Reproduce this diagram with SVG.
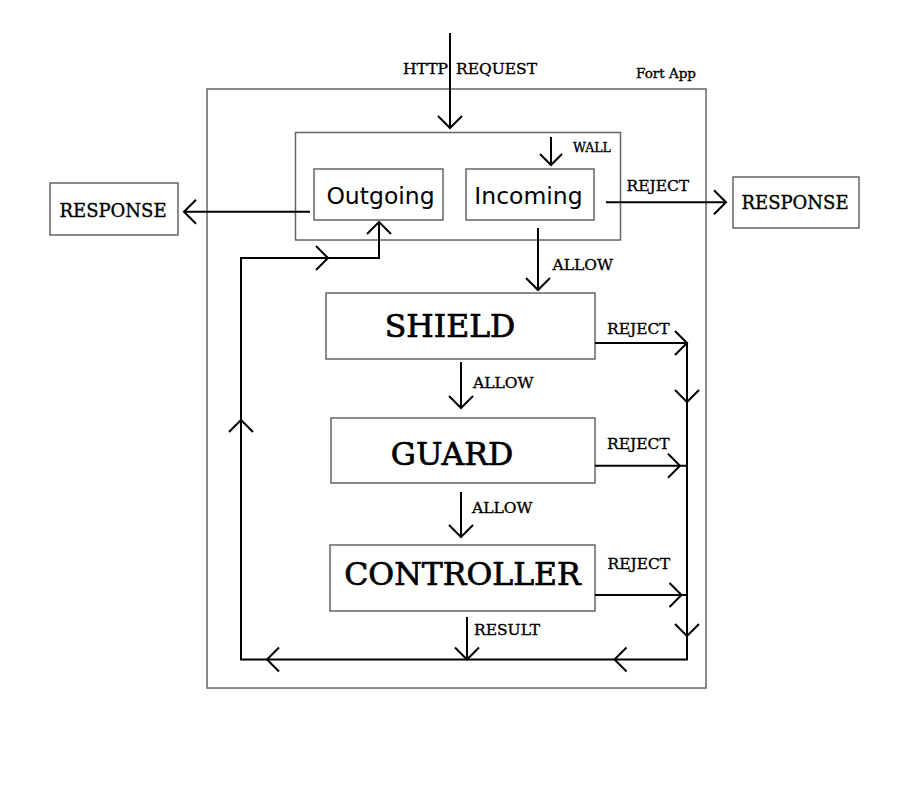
<svg xmlns="http://www.w3.org/2000/svg" xmlns:xlink="http://www.w3.org/1999/xlink" width="907" height="792" viewBox="0 0 907 792">
<style>
.bg{fill:#fff}
.container{fill:none;stroke:#666;stroke-width:1.5}
.box{fill:#fff;stroke:#4d4d4d;stroke-width:1.3}
.wire{fill:none;stroke:#000;stroke-width:2;stroke-linecap:butt;stroke-linejoin:miter}
.chev{fill:none;stroke:#000;stroke-width:2;stroke-linecap:butt}
.slab{font-family:"DejaVu Serif","Liberation Serif",serif;fill:#000;stroke:#000;stroke-width:0.35}
.sans{font-family:"DejaVu Sans","Noto Sans",sans-serif;fill:#000}
.lbl{font-size:15.5px}
.big{font-size:31.5px;stroke-width:0.7}
.resp{font-size:18px}
</style>
<defs>
<path id="chev" class="chev" d="M-12,-12 L0,0 L-12,12"/>
<path id="chevs" class="chev" d="M-11,-11 L0,0 L-11,11"/>
</defs>
<rect class="bg" x="0" y="0" width="907" height="792"/>

<g id="fort-app">
<rect class="container" x="207" y="89" width="499" height="599"/>
<text class="slab" x="636" y="78" font-size="13.5">Fort App</text>
</g>

<g id="wall">
<rect class="container" x="295.5" y="132.5" width="325" height="107.5"/>
<text class="slab" x="573" y="152" font-size="12.5">WALL</text>
</g>

<g id="outgoing">
<rect class="box" x="314" y="169" width="129" height="51"/>
<text class="sans" x="380.5" y="203.5" font-size="23.5" text-anchor="middle">Outgoing</text>
</g>

<g id="incoming">
<rect class="box" x="466" y="169" width="128" height="51"/>
<text class="sans" x="528.5" y="203.5" font-size="23.5" text-anchor="middle">Incoming</text>
</g>

<g id="response-left">
<rect class="box" x="50" y="183" width="128" height="52"/>
<text class="slab resp" x="113" y="217" text-anchor="middle">RESPONSE</text>
</g>

<g id="response-right">
<rect class="box" x="733" y="177" width="126" height="51"/>
<text class="slab resp" x="795" y="208.5" text-anchor="middle">RESPONSE</text>
</g>

<g id="shield">
<rect class="box" x="326" y="293" width="269" height="66"/>
<text class="slab big" x="450" y="337" text-anchor="middle">SHIELD</text>
</g>

<g id="guard">
<rect class="box" x="331" y="418" width="264" height="65"/>
<text class="slab big" x="452" y="465" text-anchor="middle">GUARD</text>
</g>

<g id="controller">
<rect class="box" x="330" y="545" width="265" height="66"/>
<text class="slab big" x="462.5" y="585" text-anchor="middle">CONTROLLER</text>
</g>

<g id="connectors">
<!-- HTTP request -->
<line class="wire" x1="450" y1="33" x2="450" y2="128"/>
<use xlink:href="#chev" transform="translate(450,128) rotate(90)"/>
<text class="slab lbl" x="448" y="73.5" text-anchor="end">HTTP</text>
<text class="slab lbl" x="456" y="73.5">REQUEST</text>

<!-- wall into incoming -->
<line class="wire" x1="551" y1="137" x2="551" y2="165"/>
<use xlink:href="#chevs" transform="translate(551,165) rotate(90)"/>

<!-- outgoing to response -->
<line class="wire" x1="310" y1="211.7" x2="184" y2="211.7"/>
<use xlink:href="#chev" transform="translate(184,211.7) rotate(180)"/>

<!-- incoming reject to response -->
<line class="wire" x1="606" y1="202.3" x2="726" y2="202.3"/>
<use xlink:href="#chev" transform="translate(726,202.3)"/>
<text class="slab lbl" x="626.5" y="190.5">REJECT</text>

<!-- incoming allow to shield -->
<line class="wire" x1="538" y1="228" x2="538" y2="290"/>
<use xlink:href="#chev" transform="translate(538,290) rotate(90)"/>
<text class="slab lbl" x="552.5" y="270">ALLOW</text>

<!-- shield allow to guard -->
<line class="wire" x1="461" y1="362" x2="461" y2="408"/>
<use xlink:href="#chev" transform="translate(461,408) rotate(90)"/>
<text class="slab lbl" x="473" y="387.5">ALLOW</text>

<!-- guard allow to controller -->
<line class="wire" x1="461" y1="492" x2="461" y2="537"/>
<use xlink:href="#chev" transform="translate(461,537) rotate(90)"/>
<text class="slab lbl" x="472" y="512.5">ALLOW</text>

<!-- controller result -->
<line class="wire" x1="467" y1="617" x2="467" y2="659.5"/>
<use xlink:href="#chev" transform="translate(467,659.5) rotate(90)"/>
<text class="slab lbl" x="474" y="635">RESULT</text>

<!-- rejects -->
<line class="wire" x1="595" y1="343" x2="687" y2="343"/>
<use xlink:href="#chev" transform="translate(687,343)"/>
<text class="slab lbl" x="607" y="333.5">REJECT</text>

<line class="wire" x1="595" y1="465.7" x2="687" y2="465.7"/>
<use xlink:href="#chev" transform="translate(680,465.7)"/>
<text class="slab lbl" x="607" y="448.5">REJECT</text>

<line class="wire" x1="595" y1="595" x2="687" y2="595"/>
<use xlink:href="#chev" transform="translate(681.5,595)"/>
<text class="slab lbl" x="607.5" y="568.5">REJECT</text>

<!-- return loop -->
<polyline class="wire" points="687,342 687,659.5 241,659.5 241,258 379,258 379,222"/>
<use xlink:href="#chev" transform="translate(687,402) rotate(90)"/>
<use xlink:href="#chev" transform="translate(687,636) rotate(90)"/>
<use xlink:href="#chev" transform="translate(614.5,659.5) rotate(180)"/>
<use xlink:href="#chev" transform="translate(267,659.5) rotate(180)"/>
<use xlink:href="#chev" transform="translate(241,420) rotate(-90)"/>
<use xlink:href="#chev" transform="translate(328,258)"/>
<use xlink:href="#chev" transform="translate(379,222) rotate(-90)"/>
</g>
</svg>
